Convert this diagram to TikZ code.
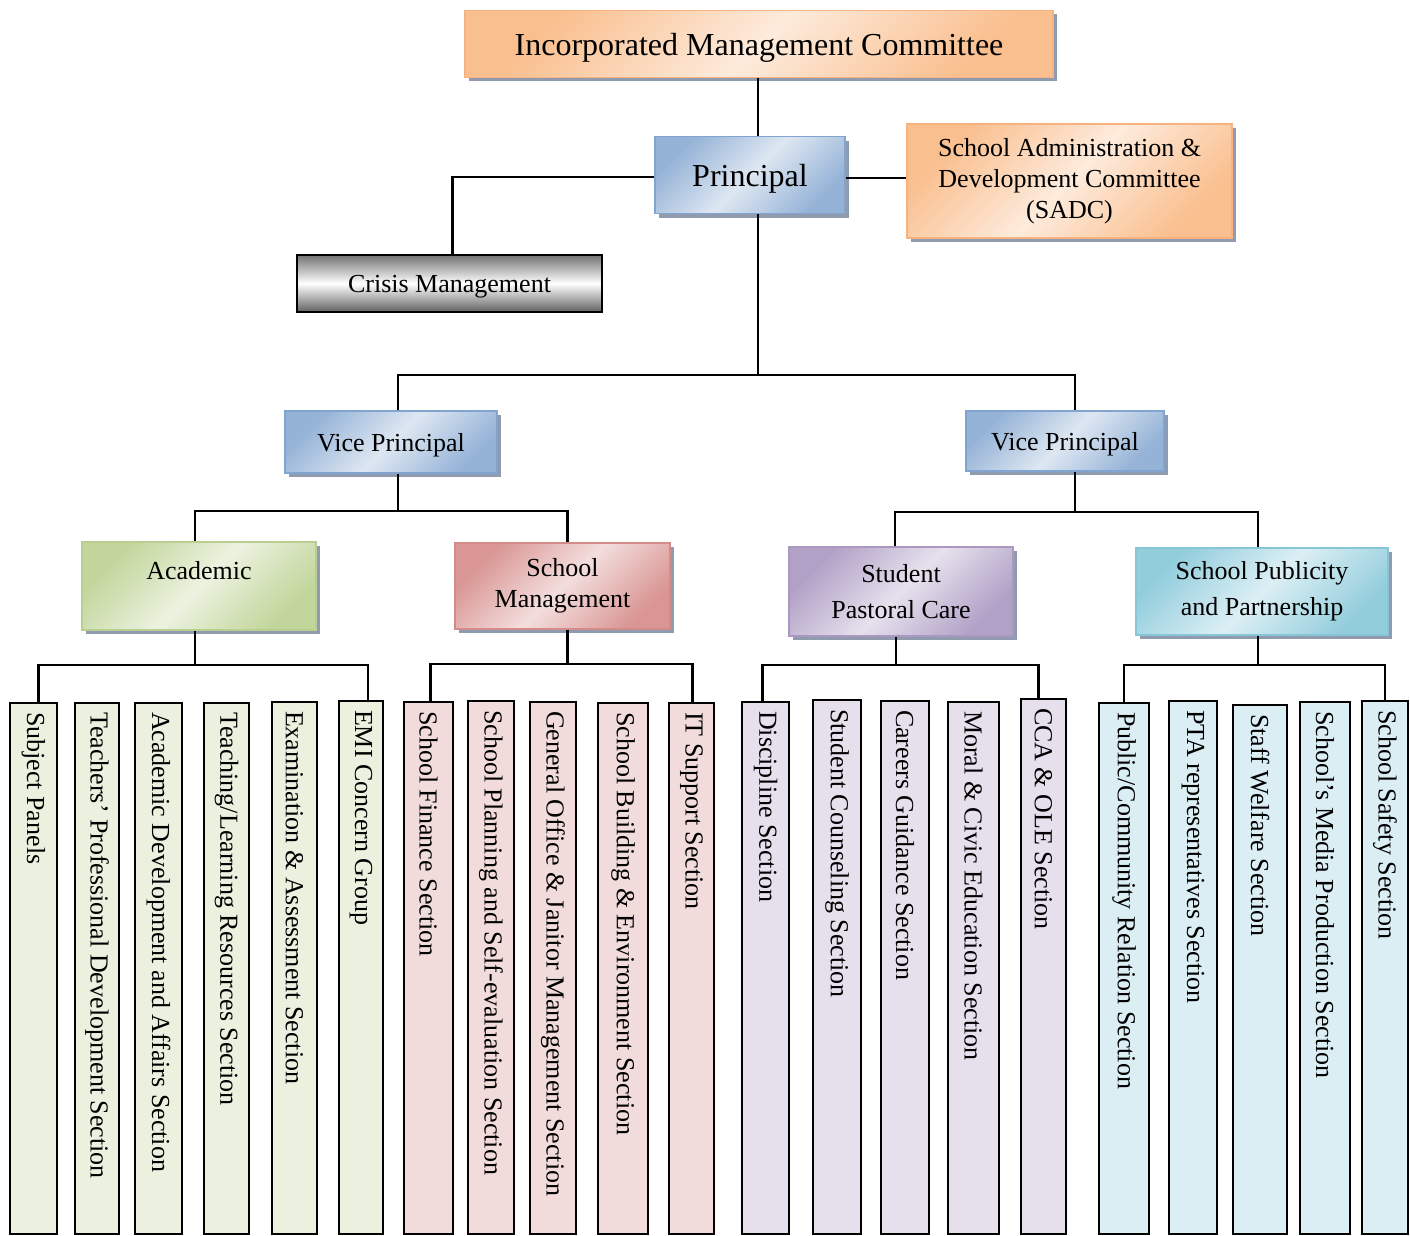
\documentclass[tikz,border=0pt]{standalone}
\usepackage{fontspec}
\setmainfont{Liberation Serif}
\usetikzlibrary{shadows}
\definecolor{orD}{RGB}{250,191,143}
\definecolor{orL}{RGB}{253,235,220}
\definecolor{orB}{RGB}{247,178,128}
\definecolor{blD}{RGB}{149,179,215}
\definecolor{blL}{RGB}{222,231,242}
\definecolor{blB}{RGB}{130,164,208}
\definecolor{grD}{RGB}{194,214,155}
\definecolor{grL}{RGB}{236,242,224}
\definecolor{grB}{RGB}{185,206,145}
\definecolor{rdD}{RGB}{217,150,148}
\definecolor{rdL}{RGB}{243,222,221}
\definecolor{rdB}{RGB}{210,140,138}
\definecolor{puD}{RGB}{178,161,199}
\definecolor{puL}{RGB}{230,225,237}
\definecolor{puB}{RGB}{170,152,192}
\definecolor{tlD}{RGB}{146,205,220}
\definecolor{tlL}{RGB}{220,239,244}
\definecolor{tlB}{RGB}{135,198,214}
\definecolor{shcol}{RGB}{145,155,175}
\definecolor{cgr}{RGB}{235,241,222}
\definecolor{crd}{RGB}{242,220,219}
\definecolor{cpu}{RGB}{229,224,236}
\definecolor{ctl}{RGB}{219,238,243}
\tikzset{
  conn/.style={draw=black, line width=2.2pt},
  tbox/.style={rectangle, inner sep=0pt, align=center,
    font=\fontsize{26}{31}\selectfont, line width=1.2pt,
    drop shadow={shadow xshift=4pt, shadow yshift=-4pt, fill=shcol, opacity=1}},
  oneline/.style={text depth=0pt},
  orbox/.style={tbox, draw=orB, top color=orD, bottom color=orD, middle color=orL, shading angle=45},
  blbox/.style={tbox, draw=blB, top color=blD, bottom color=blD, middle color=blL, shading angle=45},
  grbox/.style={tbox, draw=grB, top color=grD, bottom color=grD, middle color=grL, shading angle=45},
  rdbox/.style={tbox, draw=rdB, top color=rdD, bottom color=rdD, middle color=rdL, shading angle=45},
  pubox/.style={tbox, draw=puB, top color=puD, bottom color=puD, middle color=puL, shading angle=45},
  tlbox/.style={tbox, draw=tlB, top color=tlD, bottom color=tlD, middle color=tlL, shading angle=45},
  crbox/.style={rectangle, inner sep=0pt, align=center, draw=black, line width=2pt,
    font=\fontsize{26}{31}\selectfont,
    top color=black!55, bottom color=black!62, middle color=white},
  colbox/.style={rectangle, draw=black, line width=1.8pt, rotate=-90, align=flush left,
    inner xsep=9pt, inner ysep=0pt, font=\fontsize{26}{31}\selectfont},
}
\newcommand\mkcolumn[6]{%
  \pgfmathsetmacro\mcx{(#2+#3)/2}%
  \pgfmathsetmacro\mcy{(#4+1234)/2}%
  \pgfmathsetmacro\mcl{1234-#4}%
  \pgfmathsetmacro\mcw{#3-#2}%
  \pgfmathsetmacro\mctw{1234-#4-18}%
  \node[colbox, fill=#5, minimum width=\mcl pt, text width=\mctw pt, minimum height=\mcw pt] (#1) at (\mcx,\mcy) {#6};}
\begin{document}
\begin{tikzpicture}[x=1pt,y=-1pt]
\useasboundingbox (0,0) rectangle (1410,1236);
% level 0/1
\node[orbox, oneline, minimum width=588pt, minimum height=67pt, font=\fontsize{32}{38}\selectfont] (imc) at (759,44) {Incorporated Management Committee};
\node[blbox, oneline, minimum width=190pt, minimum height=77pt, font=\fontsize{32}{38}\selectfont] (prin) at (750,175) {Principal};
\node[orbox, minimum width=325pt, minimum height=114pt] (sadc) at (1069.5,181) {School Administration \&\\Development Committee\\(SADC)};
\node[crbox, oneline, minimum width=305pt, minimum height=57pt] (crisis) at (449.5,283.5) {Crisis Management};
\node[blbox, oneline, minimum width=212pt, minimum height=62pt] (vp1) at (391,442) {Vice Principal};
\node[blbox, oneline, minimum width=198pt, minimum height=60pt] (vp2) at (1065,441) {Vice Principal};
% level 2
\node[grbox, minimum width=234pt, minimum height=88pt] (acad) at (199,586) {Academic\\\phantom{M}};
\node[rdbox, minimum width=215pt, minimum height=86pt] (sm) at (562.5,586) {School\\Management};
\node[pubox, minimum width=224pt, minimum height=89pt] (spc) at (901,591.5) {Student\\[5pt]Pastoral Care};
\node[tlbox, minimum width=252pt, minimum height=87pt] (spp) at (1262,591.5) {School Publicity\\[5pt]and Partnership};
% columns
\mkcolumn{a1}{10}{57}{703}{cgr}{Subject Panels}
\mkcolumn{a2}{75}{119}{703}{cgr}{Teachers’ Professional Development Section}
\mkcolumn{a3}{135}{182}{703}{cgr}{Academic Development and Affairs Section}
\mkcolumn{a4}{204}{249}{703}{cgr}{Teaching/Learning Resources Section}
\mkcolumn{a5}{272}{317}{702}{cgr}{Examination \& Assessment Section}
\mkcolumn{a6}{339}{383}{701}{cgr}{EMI Concern Group}
\mkcolumn{s1}{404}{453}{702}{crd}{School Finance Section}
\mkcolumn{s2}{468}{514}{701}{crd}{School Planning and Self-evaluation Section}
\mkcolumn{s3}{530}{576}{702}{crd}{General Office \& Janitor Management Section}
\mkcolumn{s4}{598}{648}{703}{crd}{School Building \& Environment Section}
\mkcolumn{s5}{669}{714}{703}{crd}{IT Support Section}
\mkcolumn{p1}{742}{789}{702}{cpu}{Discipline Section}
\mkcolumn{p2}{813}{861}{700}{cpu}{Student Counseling Section}
\mkcolumn{p3}{881}{929}{701}{cpu}{Careers Guidance Section}
\mkcolumn{p4}{948}{999}{702}{cpu}{Moral \& Civic Education Section}
\mkcolumn{p5}{1021}{1066}{699}{cpu}{CCA \& OLE Section}
\mkcolumn{q1}{1099}{1149}{703}{ctl}{Public/Community Relation Section}
\mkcolumn{q2}{1169}{1217}{701}{ctl}{PTA representatives Section}
\mkcolumn{q3}{1233}{1287}{705}{ctl}{Staff Welfare Section}
\mkcolumn{q4}{1300}{1350}{702}{ctl}{School’s Media Production Section}
\mkcolumn{q5}{1362}{1408}{701}{ctl}{School Safety Section}
% connectors
\coordinate (tr) at (758,375);
\draw[conn] (imc.south -| tr) -- (prin.north -| tr);
\draw[conn] (prin.south -| tr) -- (tr);
\draw[conn] ([xshift=7pt]vp1.north) |- (tr) -| ([xshift=10pt]vp2.north);
\draw[conn] ([yshift=-2pt]prin.west) -| ([xshift=3pt]crisis.north);
\draw[conn] ([yshift=-3pt]prin.east) -- ([yshift=-3pt]prin.east -| sadc.west);
\draw[conn] ([xshift=7pt]vp1.south) -- ++(0,37) coordinate (b1);
\draw[conn] ([xshift=-4pt]acad.north) |- (b1) -| ([xshift=5pt]sm.north);
\draw[conn] ([xshift=10pt]vp2.south) -- ++(0,40) coordinate (b2);
\draw[conn] ([xshift=-6pt]spc.north) |- (b2) -| ([xshift=-4pt]spp.north);
\draw[conn] ([xshift=-4pt]acad.south) -- ++(0,34) coordinate (b3);
\draw[conn] ([xshift=5pt]a1.west) |- (b3) -| ([xshift=7pt]a6.west);
\draw[conn] ([xshift=5pt]sm.south) -- ++(0,34) coordinate (b4);
\draw[conn] ([xshift=2pt]s1.west) |- (b4) -| ([xshift=1pt]s5.west);
\draw[conn] ([xshift=-5pt]spc.south) -- ++(0,28) coordinate (b5);
\draw[conn] ([xshift=-3pt]p1.west) |- (b5) -| ([xshift=-5pt]p5.west);
\draw[conn] ([xshift=-4pt]spp.south) -- ++(0,29) coordinate (b6);
\draw[conn] (q1.west) |- (b6) -| (q5.west);
\end{tikzpicture}
\end{document}
